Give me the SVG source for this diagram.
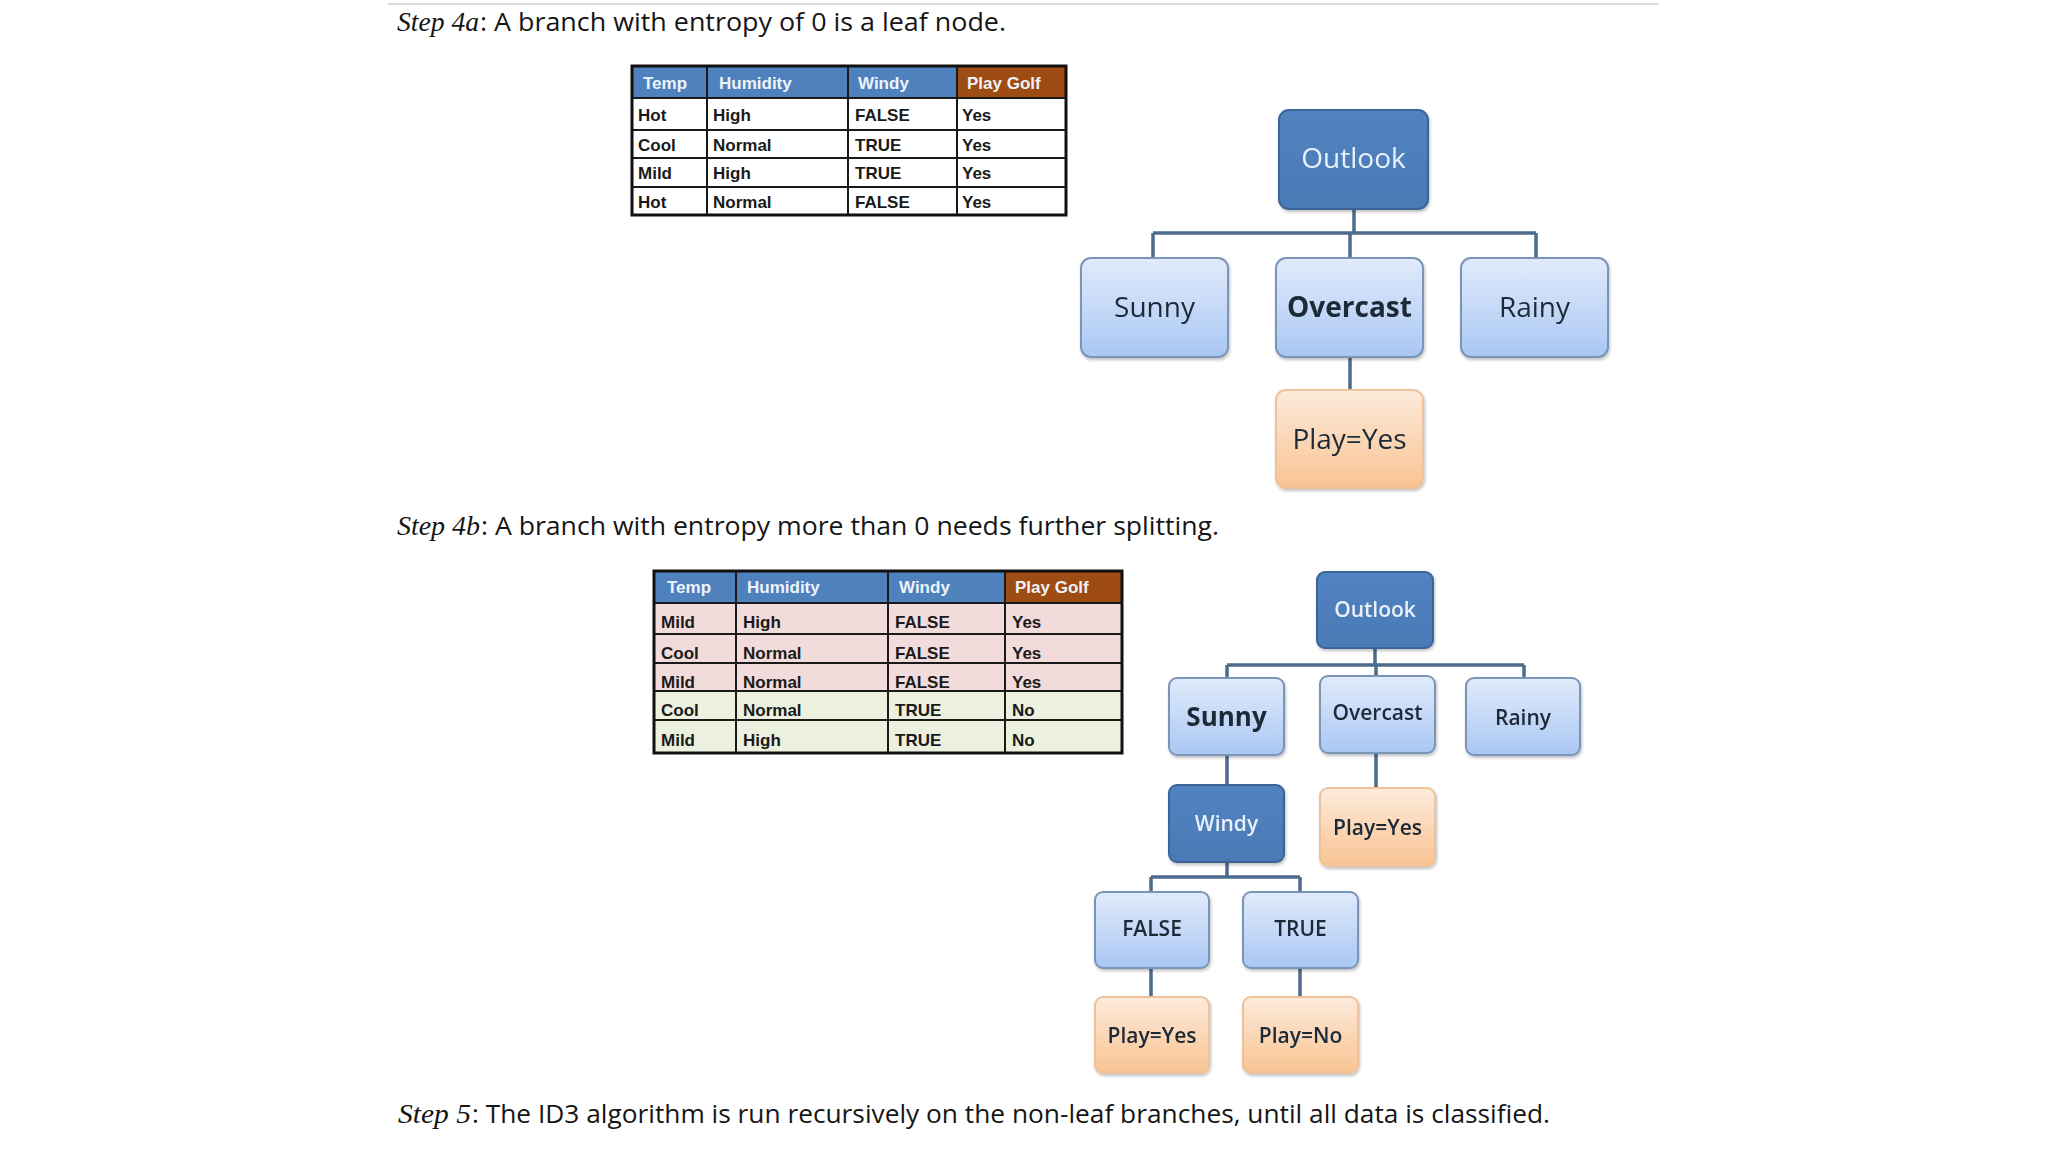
<svg xmlns="http://www.w3.org/2000/svg" width="2048" height="1152" viewBox="0 0 2048 1152">
<defs>
<linearGradient id="gBlue" x1="0" y1="0" x2="0" y2="1"><stop offset="0" stop-color="#E1EBFB"/><stop offset="1" stop-color="#A9C7F3"/></linearGradient>
<linearGradient id="gOrange" x1="0" y1="0" x2="0" y2="1"><stop offset="0" stop-color="#FDEBDC"/><stop offset="1" stop-color="#F9C391"/></linearGradient>
<linearGradient id="gDark" x1="0" y1="0" x2="0" y2="1"><stop offset="0" stop-color="#5183C0"/><stop offset="1" stop-color="#4A7AB6"/></linearGradient>
<filter id="sh" x="-10%" y="-10%" width="125%" height="130%"><feDropShadow dx="1" dy="2" stdDeviation="1.5" flood-color="#000" flood-opacity="0.25"/></filter>
<style>
.step{font-family:"Open Sans","Liberation Sans",sans-serif;font-size:26px;fill:#151515}
.stepi{font-family:"Liberation Serif",serif;font-style:italic;font-size:27px;fill:#151515}
.light{fill:url(#gBlue);stroke:#7A95B8;stroke-width:2}
.dark{fill:url(#gDark);stroke:#3B6598;stroke-width:2}
.leaf{fill:url(#gOrange);stroke:#EDC29C;stroke-width:2}
.lbl{font-family:"Open Sans","Liberation Sans",sans-serif;fill:#1E2A38;text-anchor:middle}
.wl{fill:#E8F0FA}
.t1{font-size:28px}
.t2{font-size:21px;font-weight:600}
.conn{fill:none;stroke:#4D6B8B;stroke-width:3.5}
.th{font-family:"Liberation Sans",Arial,sans-serif;font-size:17px;font-weight:bold;fill:#EEF3FB}
.td{font-family:"Liberation Sans",Arial,sans-serif;font-size:17px;font-weight:bold;fill:#1A1A1A}
.grid{stroke:#1A1A1A;stroke-width:2;fill:none}
</style>
</defs>
<rect width="2048" height="1152" fill="#FFFFFF"/>
<line x1="388" y1="4" x2="1659" y2="4" stroke="#DCDCDC" stroke-width="2"/>

<g id="caption-4a">
<text class="stepi" x="397" y="31" textLength="82" lengthAdjust="spacingAndGlyphs">Step 4a</text>
<text class="step" x="480" y="31" textLength="526" lengthAdjust="spacingAndGlyphs">: A branch with entropy of 0 is a leaf node.</text>
</g>

<g id="table-4a">
<rect x="632" y="66" width="325" height="32" fill="#4F81BD"/>
<rect x="957" y="66" width="109" height="32" fill="#9E4B14"/>
<rect x="632" y="98" width="434" height="117" fill="#FFFFFF"/>
<path class="grid" d="M632 130H1066M632 158H1066M632 187H1066M707 66V215M848 66V215M957 66V215"/>
<path class="grid" d="M632 98H1066" stroke-width="2.5"/>
<rect x="632" y="66" width="434" height="149" fill="none" stroke="#111" stroke-width="3"/>
<text class="th" x="643" y="89">Temp</text><text class="th" x="719" y="89">Humidity</text><text class="th" x="858" y="89">Windy</text><text class="th" x="967" y="89">Play Golf</text>
<text class="td" x="638" y="121">Hot</text><text class="td" x="713" y="121">High</text><text class="td" x="855" y="121">FALSE</text><text class="td" x="962" y="121">Yes</text>
<text class="td" x="638" y="151">Cool</text><text class="td" x="713" y="151">Normal</text><text class="td" x="855" y="151">TRUE</text><text class="td" x="962" y="151">Yes</text>
<text class="td" x="638" y="179">Mild</text><text class="td" x="713" y="179">High</text><text class="td" x="855" y="179">TRUE</text><text class="td" x="962" y="179">Yes</text>
<text class="td" x="638" y="208">Hot</text><text class="td" x="713" y="208">Normal</text><text class="td" x="855" y="208">FALSE</text><text class="td" x="962" y="208">Yes</text>
</g>

<g id="connectors">
<path class="conn" d="M1354 209V233M1153 233H1536M1153 233V258M1350 233V258M1536 233V258M1350 357V390"/>
<path class="conn" stroke-width="3" d="M1375 648V665M1227 665H1524M1227 665V678M1376 665V676M1524 665V678M1227 755V785M1376 753V788M1227 862V877M1151 877H1300M1151 877V892M1300 877V892M1151 968V997M1300 968V997"/>
</g>

<g id="t1-outlook" filter="url(#sh)"><rect class="dark" x="1279" y="110" width="149" height="99" rx="10"/><text class="lbl wl t1" x="1353.5" y="168">Outlook</text></g>
<g id="t1-sunny" filter="url(#sh)"><rect class="light" x="1081" y="258" width="147" height="99" rx="10"/><text class="lbl t1" x="1154.5" y="317">Sunny</text></g>
<g id="t1-overcast" filter="url(#sh)"><rect class="light" x="1276" y="258" width="147" height="99" rx="10"/><text class="lbl t1" x="1349.5" y="317" font-weight="bold">Overcast</text></g>
<g id="t1-rainy" filter="url(#sh)"><rect class="light" x="1461" y="258" width="147" height="99" rx="10"/><text class="lbl t1" x="1534.5" y="317">Rainy</text></g>
<g id="t1-play-yes" filter="url(#sh)"><rect class="leaf" x="1276" y="390" width="147" height="98" rx="10"/><text class="lbl t1" x="1349.5" y="449">Play=Yes</text></g>

<g id="caption-4b">
<text class="stepi" x="397" y="535" textLength="83" lengthAdjust="spacingAndGlyphs">Step 4b</text>
<text class="step" x="481" y="535" textLength="738" lengthAdjust="spacingAndGlyphs">: A branch with entropy more than 0 needs further splitting.</text>
</g>

<g id="table-4b">
<rect x="654" y="571" width="351" height="32" fill="#4F81BD"/>
<rect x="1005" y="571" width="117" height="32" fill="#9E4B14"/>
<rect x="654" y="603" width="468" height="88" fill="#F2DCDB"/>
<rect x="654" y="691" width="468" height="62" fill="#EBF1DE"/>
<path class="grid" d="M654 634H1122M654 663H1122M654 691H1122M654 720H1122M736 571V753M888 571V753M1005 571V753"/>
<path class="grid" d="M654 603H1122" stroke-width="2.5"/>
<rect x="654" y="571" width="468" height="182" fill="none" stroke="#111" stroke-width="3"/>
<text class="th" x="667" y="593">Temp</text><text class="th" x="747" y="593">Humidity</text><text class="th" x="899" y="593">Windy</text><text class="th" x="1015" y="593">Play Golf</text>
<text class="td" x="661" y="628">Mild</text><text class="td" x="743" y="628">High</text><text class="td" x="895" y="628">FALSE</text><text class="td" x="1012" y="628">Yes</text>
<text class="td" x="661" y="659">Cool</text><text class="td" x="743" y="659">Normal</text><text class="td" x="895" y="659">FALSE</text><text class="td" x="1012" y="659">Yes</text>
<text class="td" x="661" y="688">Mild</text><text class="td" x="743" y="688">Normal</text><text class="td" x="895" y="688">FALSE</text><text class="td" x="1012" y="688">Yes</text>
<text class="td" x="661" y="716">Cool</text><text class="td" x="743" y="716">Normal</text><text class="td" x="895" y="716">TRUE</text><text class="td" x="1012" y="716">No</text>
<text class="td" x="661" y="746">Mild</text><text class="td" x="743" y="746">High</text><text class="td" x="895" y="746">TRUE</text><text class="td" x="1012" y="746">No</text>
</g>

<g id="t2-outlook" filter="url(#sh)"><rect class="dark" x="1317" y="572" width="116" height="76" rx="8"/><text class="lbl wl t2" x="1375" y="616.5">Outlook</text></g>
<g id="t2-sunny" filter="url(#sh)"><rect class="light" x="1169" y="678" width="115" height="77" rx="8"/><text class="lbl" x="1226.5" y="726" font-size="26" font-weight="bold">Sunny</text></g>
<g id="t2-overcast" filter="url(#sh)"><rect class="light" x="1320" y="676" width="115" height="77" rx="8"/><text class="lbl t2" x="1377.5" y="720" font-size="20">Overcast</text></g>
<g id="t2-rainy" filter="url(#sh)"><rect class="light" x="1466" y="678" width="114" height="77" rx="8"/><text class="lbl t2" x="1523" y="724.5">Rainy</text></g>
<g id="t2-windy" filter="url(#sh)"><rect class="dark" x="1169" y="785" width="115" height="77" rx="8"/><text class="lbl wl t2" x="1226.5" y="830.5">Windy</text></g>
<g id="t2-play-yes" filter="url(#sh)"><rect class="leaf" x="1320" y="788" width="115" height="78" rx="8"/><text class="lbl t2" x="1377.5" y="834.5">Play=Yes</text></g>
<g id="t2-false" filter="url(#sh)"><rect class="light" x="1095" y="892" width="114" height="76" rx="8"/><text class="lbl t2" x="1152" y="936" font-size="20">FALSE</text></g>
<g id="t2-true" filter="url(#sh)"><rect class="light" x="1243" y="892" width="115" height="76" rx="8"/><text class="lbl t2" x="1300.5" y="936" font-size="20">TRUE</text></g>
<g id="t2-false-play-yes" filter="url(#sh)"><rect class="leaf" x="1095" y="997" width="114" height="76" rx="8"/><text class="lbl t2" x="1152" y="1043">Play=Yes</text></g>
<g id="t2-true-play-no" filter="url(#sh)"><rect class="leaf" x="1243" y="997" width="115" height="76" rx="8"/><text class="lbl t2" x="1300.5" y="1043">Play=No</text></g>

<g id="caption-5">
<text class="stepi" x="398" y="1123" textLength="73" lengthAdjust="spacingAndGlyphs">Step 5</text>
<text class="step" x="472" y="1123" textLength="1078" lengthAdjust="spacingAndGlyphs">: The ID3 algorithm is run recursively on the non-leaf branches, until all data is classified.</text>
</g>
</svg>
